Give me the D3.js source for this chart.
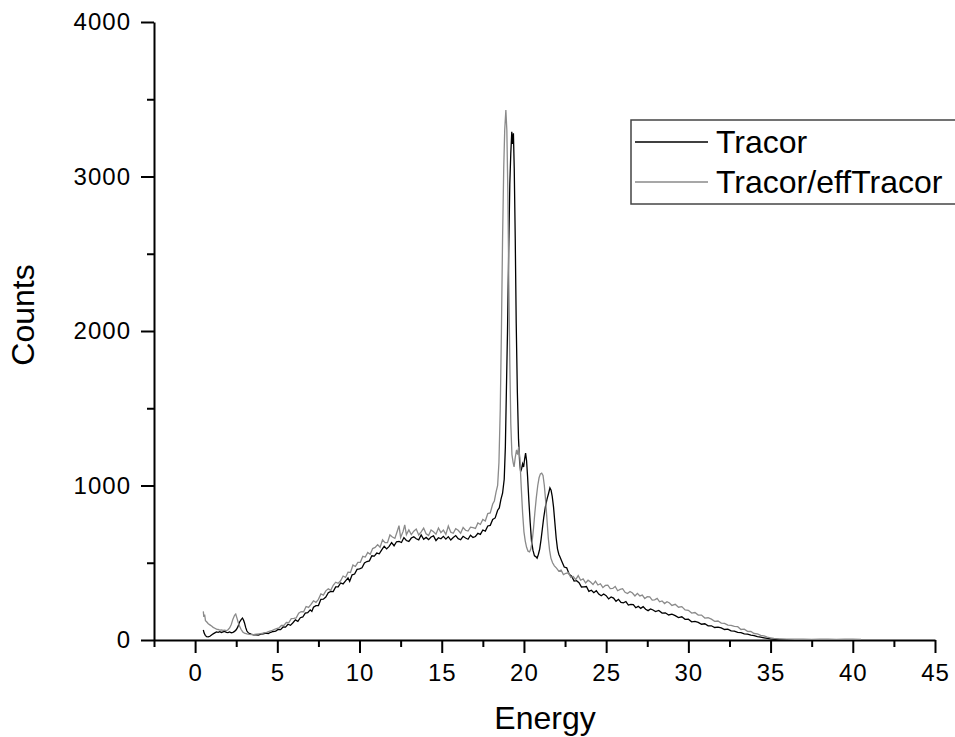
<!DOCTYPE html>
<html><head><meta charset="utf-8">
<script src="https://cdn.jsdelivr.net/npm/d3@7"></script>
<style>
body{margin:0;background:#fff;}
svg{display:block;font-family:"Liberation Sans",Arial,sans-serif;}
</style></head>
<body><svg id="chart" width="955" height="737"></svg>
<script>
// ---- data ----
const seriesNames = ["Tracor", "Tracor/effTracor"];
const seriesColors = ["#000000", "#8a8a8a"];
const xMajorTicks = [0,5,10,15,20,25,30,35,40,45];
const xMinorTicks = [-2.5,2.5,7.5,12.5,17.5,22.5,27.5,32.5,37.5,42.5];
const yMajorTicks = [0,1000,2000,3000,4000];
const yMinorTicks = [500,1500,2500,3500];

// [Energy, Counts]
const tracor = [[0.50,65],[0.55,45],[0.62,30],[0.70,22],[0.80,20],[0.90,24],[1.00,32],[1.10,40],[1.20,46],[1.30,52],[1.40,50],[1.50,54],[1.60,49],[1.70,53],[1.80,56],[1.90,50],[2.00,48],[2.10,52],[2.20,47],[2.30,50],[2.40,56],[2.50,66],[2.60,85],[2.70,115],[2.80,132],[2.88,142],[2.95,128],[3.00,112],[3.08,80],[3.15,58],[3.25,45],[3.40,38],[3.55,33],[3.70,34],[3.85,32],[4.00,38],[4.15,40],[4.30,44],[4.45,42],[4.60,50],[4.75,55],[4.90,58],
[5.05,69],[5.20,67],[5.35,84],[5.50,83],[5.65,102],[5.80,95],[5.95,112],[6.10,130],[6.25,121],[6.40,144],[6.55,149],[6.70,174],[6.85,177],[7.00,195],[7.10,185],[7.20,212],[7.35,222],[7.50,223],[7.65,263],[7.80,264],[7.95,278],[8.10,306],[8.25,315],[8.40,313],[8.55,344],[8.70,344],[8.85,369],[9.00,363],[9.15,383],[9.30,402],[9.40,380],[9.55,422],[9.70,427],[9.85,457],[10.00,460],[10.15,467],[10.30,499],[10.45,508],[10.60,512],[10.75,545],[10.90,543],
[11.05,563],[11.20,558],[11.35,583],[11.50,607],[11.65,590],[11.80,606],[11.95,630],[12.10,610],[12.25,636],[12.40,638],[12.55,631],[12.70,663],[12.85,644],[13.00,638],[13.15,660],[13.30,668],[13.45,655],[13.60,648],[13.75,680],[13.90,652],[14.05,664],[14.20,650],[14.35,667],[14.50,674],[14.65,644],[14.80,662],[14.95,655],[15.10,671],[15.25,653],[15.40,669],[15.55,647],[15.70,663],[15.85,676],[16.00,656],[16.15,649],[16.30,671],[16.45,660],[16.60,652],[16.75,678],[16.90,664],[17.05,670],[17.20,690],[17.35,684],[17.50,712],[17.65,705],[17.80,738],[17.95,742],[18.10,780],[18.25,790],
[18.40,840],[18.50,855],[18.60,910],[18.70,950],[18.80,1040],[18.87,1250],[18.93,1600],[19.00,2000],[19.07,2500],[19.14,2950],[19.20,3150],[19.26,3290],[19.31,3210],[19.36,3280],[19.41,3050],[19.47,2600],[19.53,2050],[19.60,1600],[19.67,1300],[19.74,1150],[19.80,1090],[19.86,1110],[19.92,1140],[19.98,1120],[20.04,1170],[20.10,1210],[20.16,1160],[20.22,1060],[20.30,900],[20.38,760],[20.46,640],[20.55,580],[20.64,545],[20.72,540],[20.80,530],[20.88,555],[20.96,590],[21.04,650],[21.12,720],[21.20,790],[21.30,860],[21.40,910],[21.50,950],[21.58,985],[21.65,970],[21.72,930],[21.80,860],[21.88,760],[21.96,660],[22.04,590],[22.12,555],[22.20,535],
[22.30,510],[22.45,472],[22.60,467],[22.75,426],[22.90,413],[23.05,381],[23.20,384],[23.35,371],[23.50,343],[23.65,344],[23.80,346],[23.95,315],[24.10,322],[24.25,306],[24.40,319],[24.55,297],[24.70,286],[24.85,298],[25.00,287],[25.15,266],[25.30,279],[25.45,271],[25.60,250],[25.75,263],[25.90,244],[26.05,241],[26.20,249],[26.35,226],[26.50,231],[26.65,229],[26.80,209],[26.95,218],[27.10,205],[27.25,216],[27.40,199],[27.55,190],[27.70,201],[27.85,194],[28.00,184],[28.20,191],[28.40,174],[28.60,176],[28.80,162],[29.00,167],[29.20,158],[29.40,145],[29.60,150],[29.80,134],[30.00,135],[30.20,118],[30.40,121],[30.60,114],[30.80,102],[31.00,105],[31.20,92],[31.40,92],[31.60,81],[31.80,83],[32.00,78],[32.20,68],[32.40,70],[32.60,59],[32.80,58],
[33.00,50],[33.20,48],[33.40,40],[33.60,38],[33.80,31],[34.00,28],[34.20,22],[34.40,18],[34.60,14],[34.80,10],[35.00,7],[35.30,5],[35.60,4],[36.00,3],[36.50,2],[37.00,1]];

const tracorEff = [[0.50,185],[0.53,150],[0.58,165],[0.63,125],[0.70,118],[0.80,105],[0.90,98],[1.00,90],[1.10,82],[1.20,76],[1.30,70],[1.40,68],[1.50,64],[1.60,66],[1.70,62],[1.80,64],[1.90,60],[2.00,66],[2.10,78],[2.20,100],[2.30,135],[2.40,160],[2.47,168],[2.55,140],[2.62,115],[2.70,90],[2.80,68],[2.90,52],[3.00,45],[3.15,40],[3.30,37],[3.45,35],[3.60,36],[3.75,38],[3.90,40],[4.05,42],[4.20,47],[4.35,50],[4.50,56],[4.65,60],[4.80,68],[4.95,74],
[5.10,78],[5.25,94],[5.40,95],[5.55,113],[5.70,112],[5.85,138],[6.00,140],[6.15,143],[6.30,173],[6.45,184],[6.60,183],[6.75,217],[6.90,211],[7.05,231],[7.20,254],[7.35,244],[7.50,263],[7.65,298],[7.80,290],[7.95,318],[8.10,331],[8.25,322],[8.40,354],[8.55,374],[8.70,367],[8.85,383],[9.00,414],[9.15,405],[9.30,439],[9.45,437],[9.60,485],[9.75,476],[9.90,502],[10.05,503],[10.20,542],[10.35,537],[10.50,566],[10.65,555],[10.80,592],[10.95,599],
[11.10,617],[11.25,600],[11.40,648],[11.55,630],[11.70,630],[11.85,680],[12.00,667],[12.15,658],[12.30,706],[12.40,740],[12.50,664],[12.65,703],[12.75,745],[12.85,682],[13.00,713],[13.15,682],[13.30,704],[13.45,718],[13.60,680],[13.75,700],[13.90,724],[14.05,688],[14.20,677],[14.35,712],[14.50,700],[14.65,685],[14.80,725],[14.95,695],[15.10,711],[15.25,684],[15.40,738],[15.55,698],[15.70,691],[15.85,720],[16.00,710],[16.15,691],[16.30,728],[16.45,710],[16.60,705],[16.75,730],[16.90,728],[17.05,722],[17.20,758],[17.35,748],[17.50,780],[17.65,770],[17.80,818],[17.95,822],[18.10,880],
[18.20,900],[18.30,955],[18.40,1000],[18.48,1150],[18.56,1500],[18.63,2000],[18.70,2600],[18.77,3050],[18.83,3300],[18.90,3430],[18.96,3300],[19.02,2900],[19.08,2300],[19.14,1800],[19.20,1400],[19.27,1200],[19.34,1150],[19.40,1120],[19.47,1180],[19.55,1230],[19.62,1200],[19.68,1250],[19.75,1180],[19.83,1000],[19.92,820],[20.00,700],[20.08,640],[20.16,600],[20.25,575],[20.34,570],[20.42,590],[20.50,640],[20.58,720],[20.66,820],[20.75,920],[20.84,1000],[20.92,1050],[21.00,1075],[21.08,1080],[21.16,1065],[21.24,1000],[21.32,900],[21.40,780],[21.48,660],[21.56,580],[21.64,530],[21.74,500],[21.85,480],[21.98,465],
[22.12,446],[22.26,452],[22.40,423],[22.55,432],[22.70,435],[22.85,405],[23.00,411],[23.15,391],[23.30,417],[23.45,387],[23.60,395],[23.75,369],[23.90,387],[24.05,375],[24.20,359],[24.35,381],[24.50,356],[24.65,364],[24.80,339],[24.95,353],[25.10,355],[25.25,333],[25.40,334],[25.55,346],[25.70,319],[25.85,327],[26.00,332],[26.15,309],[26.30,301],[26.45,314],[26.60,304],[26.75,285],[26.90,302],[27.05,285],[27.20,291],[27.35,268],[27.50,280],[27.65,279],[27.80,258],[27.95,260],[28.10,269],[28.25,247],[28.40,253],[28.55,236],[28.70,248],[28.85,240],[29.00,224],[29.20,231],[29.40,212],[29.60,216],[29.80,195],[30.00,192],[30.20,174],[30.40,178],[30.60,161],[30.80,161],[31.00,142],[31.20,144],[31.40,135],[31.60,121],[31.80,123],[32.00,109],[32.20,108],[32.40,96],[32.60,94],[32.80,88],
[33.00,86],[33.20,68],[33.40,70],[33.60,56],[33.80,55],[34.00,42],[34.20,40],[34.40,30],[34.60,26],[34.80,18],[35.00,14],[35.20,10],[35.50,7],[36.00,6],[36.50,5],[37.00,6],[37.50,4],[38.00,5],[38.50,6],[39.00,4],[39.50,6],[40.00,5],[40.50,4]];

// ---- drawing ----
const svg = d3.select("#chart");
const x = d3.scaleLinear().domain([-2.5, 45]).range([154, 935]);
const y = d3.scaleLinear().domain([0, 4000]).range([640, 22]);
const font = '"Liberation Sans", Arial, sans-serif';

// minor ticks
svg.append("g").attr("transform","translate(0,640)")
  .call(d3.axisBottom(x).tickValues(xMinorTicks).tickSize(7).tickSizeOuter(0).tickFormat(""))
  .call(g=>g.select(".domain").remove());
svg.append("g").attr("transform","translate(154,0)")
  .call(d3.axisLeft(y).tickValues(yMinorTicks).tickSize(7).tickSizeOuter(0).tickFormat(""))
  .call(g=>g.select(".domain").remove());

// major axes
svg.append("g").attr("transform","translate(0,640)")
  .call(d3.axisBottom(x).tickValues(xMajorTicks).tickSize(13).tickSizeOuter(0).tickPadding(11).tickFormat(d3.format("d")));
svg.append("g").attr("transform","translate(154,0)")
  .call(d3.axisLeft(y).tickValues(yMajorTicks).tickSize(13).tickSizeOuter(0).tickPadding(10).tickFormat(d3.format("d")));

svg.selectAll(".tick line").attr("stroke","#000").attr("stroke-width",2);
svg.selectAll(".domain").attr("stroke","#000").attr("stroke-width",2);
svg.selectAll(".tick text").attr("font-family",font).attr("font-size",24).attr("letter-spacing","1px").attr("fill","#000");

// series
const line = d3.line().x(d=>x(d[0])).y(d=>y(d[1]));
[tracor, tracorEff].forEach((s,i)=>{
  svg.append("path").datum(s).attr("d",line)
    .attr("fill","none").attr("stroke",seriesColors[i]).attr("stroke-width",1.3)
    .attr("stroke-linejoin","miter");
});

// axis titles
svg.append("text").attr("x",545).attr("y",729).attr("text-anchor","middle")
  .attr("font-family",font).attr("font-size",32).text("Energy");
svg.append("text").attr("transform","translate(34,315) rotate(-90)").attr("text-anchor","middle")
  .attr("font-family",font).attr("font-size",32).text("Counts");

// legend
const lg = svg.append("g");
lg.append("rect").attr("x",631).attr("y",120).attr("width",340).attr("height",84)
  .attr("fill","#fff").attr("stroke","#444").attr("stroke-width",1.5);
seriesNames.forEach((n,i)=>{
  const yy = 142 + i*40;
  lg.append("line").attr("x1",635).attr("x2",708).attr("y1",yy).attr("y2",yy)
    .attr("stroke",seriesColors[i]).attr("stroke-width",1.5);
  lg.append("text").attr("x",716).attr("y",yy+11).attr("font-family",font)
    .attr("font-size",32).text(n);
});
</script></body></html>
